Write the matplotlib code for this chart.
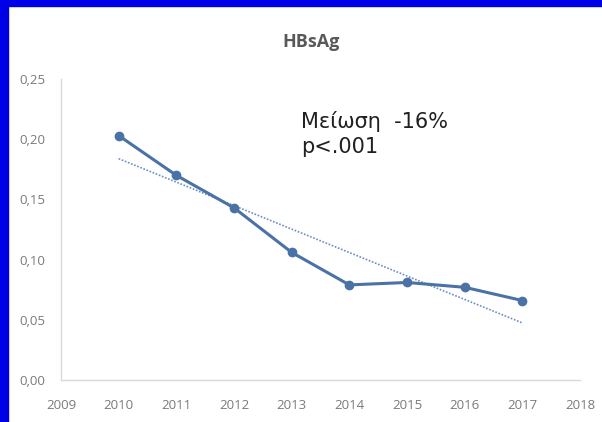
import numpy as np
import matplotlib.pyplot as plt
from matplotlib.patches import Rectangle

plt.rcParams['font.family'] = ['DejaVu Sans']

years = [2010, 2011, 2012, 2013, 2014, 2015, 2016, 2017]
hbsag = [0.203, 0.170, 0.143, 0.106, 0.079, 0.081, 0.077, 0.066]
x_ticks = list(range(2009, 2019))
y_ticks = [0.00, 0.05, 0.10, 0.15, 0.20, 0.25]
y_labels = ['0,00', '0,05', '0,10', '0,15', '0,20', '0,25']

fig = plt.figure(figsize=(6.02, 4.22), dpi=100)
ax = fig.add_axes([0.1013, 0.0995, 0.8622, 0.7133])

# blue frame on left and top
fig.patches.append(Rectangle((0, 0), 8 / 602, 1, transform=fig.transFigure,
                             color='#0000e6', zorder=0))
fig.patches.append(Rectangle((0, 1 - 6 / 422), 1, 6 / 422, transform=fig.transFigure,
                             color='#0000e6', zorder=0))

# linear trend line
k, b = np.polyfit(years, hbsag, 1)
trend = [k * yr + b for yr in years]
ax.plot(years, trend, linestyle=(0, (1, 1)), color='#6d8fbf', linewidth=1.2, zorder=2)

ax.plot(years, hbsag, color='#4a72a6', linewidth=2.2, marker='o', markersize=6, zorder=3)

ax.set_xlim(2009, 2018)
ax.set_ylim(0, 0.25)
ax.set_xticks(x_ticks)
ax.set_xticklabels([str(t) for t in x_ticks], fontsize=9.5, color='#7a7a7a', family='Open Sans')
ax.set_yticks(y_ticks)
ax.set_yticklabels(y_labels, fontsize=9.5, color='#7a7a7a', family='Open Sans')
ax.tick_params(axis='x', length=0, pad=14)
ax.tick_params(axis='y', length=0, pad=11)

for side in ['top', 'right']:
    ax.spines[side].set_visible(False)
for side in ['left', 'bottom']:
    ax.spines[side].set_color('#d9d9d9')
    ax.spines[side].set_linewidth(1)

fig.text(0.517, 0.9, 'HBsAg', ha='center', va='center', fontsize=13,
         color='#595959', fontweight='bold', family='Open Sans')

ax.text(0.463, 0.893, 'Μείωση  -16%\np<.001', transform=ax.transAxes,
        ha='left', va='top', fontsize=15, color='#202020',
        family='DejaVu Sans', linespacing=1.3)

plt.savefig('out.png', dpi=100)
